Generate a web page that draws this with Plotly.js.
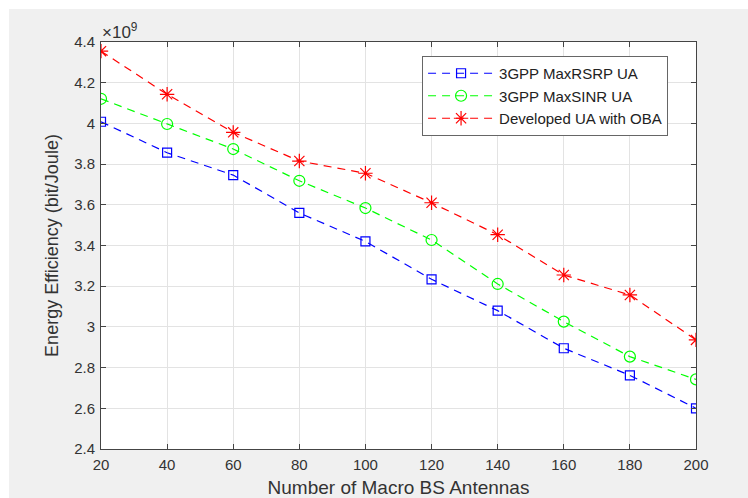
<!DOCTYPE html>
<html>
<head>
<meta charset="utf-8">
<script src="https://cdn.plot.ly/plotly-3.0.1.min.js"></script>
<style>
  html, body { margin: 0; padding: 0; background: #ffffff; width: 748px; height: 498px; overflow: hidden; }
  #chart { position: absolute; left: 9px; top: 9px; width: 739px; height: 489px; }
</style>
</head>
<body>
<div id="chart"></div>
<script>
// Number of macro BS antennas
var antennas = [20, 40, 60, 80, 100, 120, 140, 160, 180, 200];
// Energy efficiency, in units of 10^9 bit/Joule
var maxRsrp = [4.008, 3.856, 3.746, 3.560, 3.420, 3.234, 3.080, 2.895, 2.762, 2.600];
var maxSinr = [4.121, 3.997, 3.874, 3.718, 3.584, 3.427, 3.211, 3.026, 2.854, 2.742];
var developedOba = [4.355, 4.143, 3.956, 3.815, 3.755, 3.610, 3.453, 3.255, 3.157, 2.936];

var seriesNames = ['3GPP MaxRSRP UA', '3GPP MaxSINR UA', 'Developed UA with OBA'];
var xTitle = 'Number of Macro BS Antennas';
var yTitle = 'Energy Efficiency (bit/Joule)';
var exponentLabel = '\u00d710<sup>9</sup>';

var FONT = 'Liberation Sans, Arial, sans-serif';

function mk(y, name, color, symbol, size) {
  return {
    x: antennas, y: y, name: name, type: 'scatter', mode: 'lines+markers',
    line: { color: color, width: 1.2, dash: '8px,6px' },
    marker: { symbol: symbol, size: size, color: color, line: { color: color, width: 1.2 } }
  };
}

var data = [
  mk(maxRsrp, seriesNames[0], '#0000ff', 'square-open', 9),
  mk(maxSinr, seriesNames[1], '#00ff00', 'circle-open', 11),
  mk(developedOba, seriesNames[2], '#ff0000', 'asterisk-open', 12)
];

var axisCommon = {
  showline: true, linecolor: '#444444', linewidth: 1, mirror: 'ticks',
  ticks: 'inside', ticklen: 5, tickcolor: '#444444', tickwidth: 1,
  showgrid: true, gridcolor: '#e3e3e3', gridwidth: 1,
  zeroline: false,
  tickfont: { family: FONT, size: 15, color: '#333333' }
};

var layout = {
  width: 739, height: 489,
  paper_bgcolor: '#f0f0f0', plot_bgcolor: '#ffffff',
  margin: { l: 92, r: 52, t: 33, b: 49 },
  showlegend: true,
  xaxis: Object.assign({}, axisCommon, {
    range: [20, 200], tickvals: antennas, autorange: false,
    ticklabelstandoff: 2,
    title: { text: xTitle, font: { family: FONT, size: 19, color: '#333333' }, standoff: 9 }
  }),
  yaxis: Object.assign({}, axisCommon, {
    range: [2.4, 4.4], dtick: 0.2, tick0: 2.4, autorange: false,
    ticklabelstandoff: 2,
    title: { text: yTitle, font: { family: FONT, size: 18, color: '#333333' }, standoff: 10 }
  }),
  legend: {
    x: 0.5396, y: 0.9656, xanchor: 'left', yanchor: 'top',
    bgcolor: '#ffffff', bordercolor: '#666666', borderwidth: 1,
    font: { family: FONT, size: 15, color: '#222222' },
    itemwidth: 66, tracegroupgap: 0
  },
  annotations: [{
    text: exponentLabel, xref: 'paper', yref: 'paper', x: 0, y: 1,
    xanchor: 'left', yanchor: 'bottom', showarrow: false,
    font: { family: FONT, size: 17, color: '#333333' }, yshift: -2, xshift: -1
  }]
};

Plotly.newPlot('chart', data, layout, { displayModeBar: false, staticPlot: true });
</script>
</body>
</html>
